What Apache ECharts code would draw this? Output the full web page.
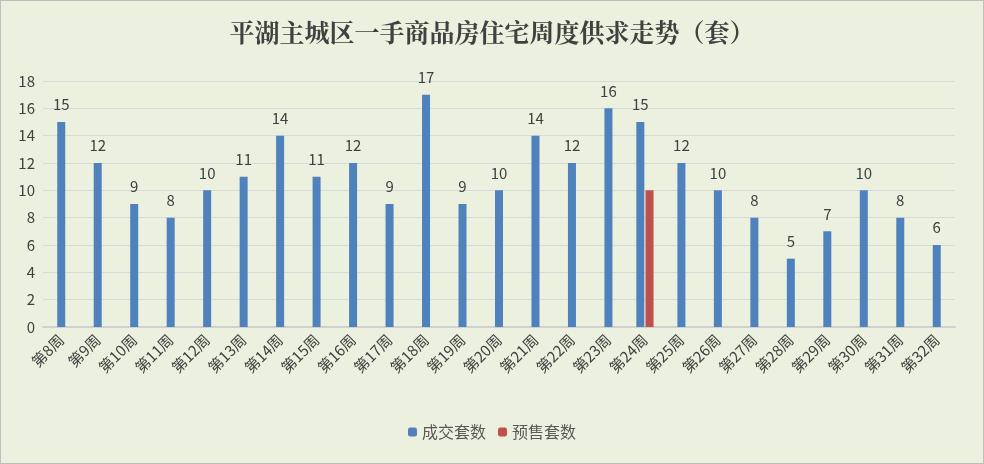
<!DOCTYPE html><html><head><meta charset="utf-8"><script src="https://cdn.jsdelivr.net/npm/echarts@6/dist/echarts.min.js"></script>
<style>html,body{margin:0;padding:0;background:#fff}#c{width:982px;height:462px;border:1px solid #bfbfbf;background:#EBF1DE}</style></head><body><div id="c"></div><script>
const categories=['第8周','第9周','第10周','第11周','第12周','第13周','第14周','第15周','第16周','第17周','第18周','第19周','第20周','第21周','第22周','第23周','第24周','第25周','第26周','第27周','第28周','第29周','第30周','第31周','第32周'];
const deals=[15,12,9,8,10,11,14,11,12,9,17,9,10,14,12,16,15,12,10,8,5,7,10,8,6];
const presale=[null,null,null,null,null,null,null,null,null,null,null,null,null,null,null,null,10,null,null,null,null,null,null,null,null];
const yTicks={min:0,max:18,interval:2};
const both=presale.map(v=>v!=null);
const dealsA=deals.map((v,i)=>both[i]?null:v);
const dealsB=deals.map((v,i)=>both[i]?v:null);
const lbl={show:true,position:'top',distance:10,color:'#404040',fontSize:15,fontFamily:'Noto Sans CJK SC'};
const chart=echarts.init(document.getElementById('c'));
chart.setOption({
 textStyle:{fontFamily:'Noto Sans CJK SC'},
 title:{text:'平湖主城区一手商品房住宅周度供求走势（套）',left:'center',top:14,textStyle:{fontSize:25,fontWeight:'bold',color:'#404040',fontFamily:'Noto Serif CJK SC, Noto Sans CJK SC'}},
 legend:{bottom:18,itemWidth:9,itemHeight:9,itemGap:12,textStyle:{fontSize:16,color:'#595959'},data:['成交套数','预售套数']},
 grid:{left:42,right:28,top:80,bottom:136,containLabel:false},
 xAxis:[{type:'category',data:categories,axisTick:{show:false},axisLine:{lineStyle:{color:'#d0d0d0',width:2}},axisLabel:{rotate:45,color:'#404040',fontSize:15,interval:0,margin:10}},
        {type:'category',data:categories,show:false}],
 yAxis:{type:'value',min:yTicks.min,max:yTicks.max,interval:yTicks.interval,axisLine:{show:false},axisTick:{show:false},axisLabel:{color:'#404040',fontSize:15,margin:8},splitLine:{lineStyle:{color:'#d9d9d9'}}},
 series:[
  {name:'成交套数',type:'bar',xAxisIndex:0,data:dealsA,barWidth:8,itemStyle:{color:'#4F81BD'},label:lbl},
  {name:'成交套数',type:'bar',xAxisIndex:1,data:dealsB,barWidth:8,barGap:'15%',itemStyle:{color:'#4F81BD'},label:lbl},
  {name:'预售套数',type:'bar',xAxisIndex:1,data:presale,barWidth:8,itemStyle:{color:'#C0504D'}}
 ]
});
</script></body></html>
